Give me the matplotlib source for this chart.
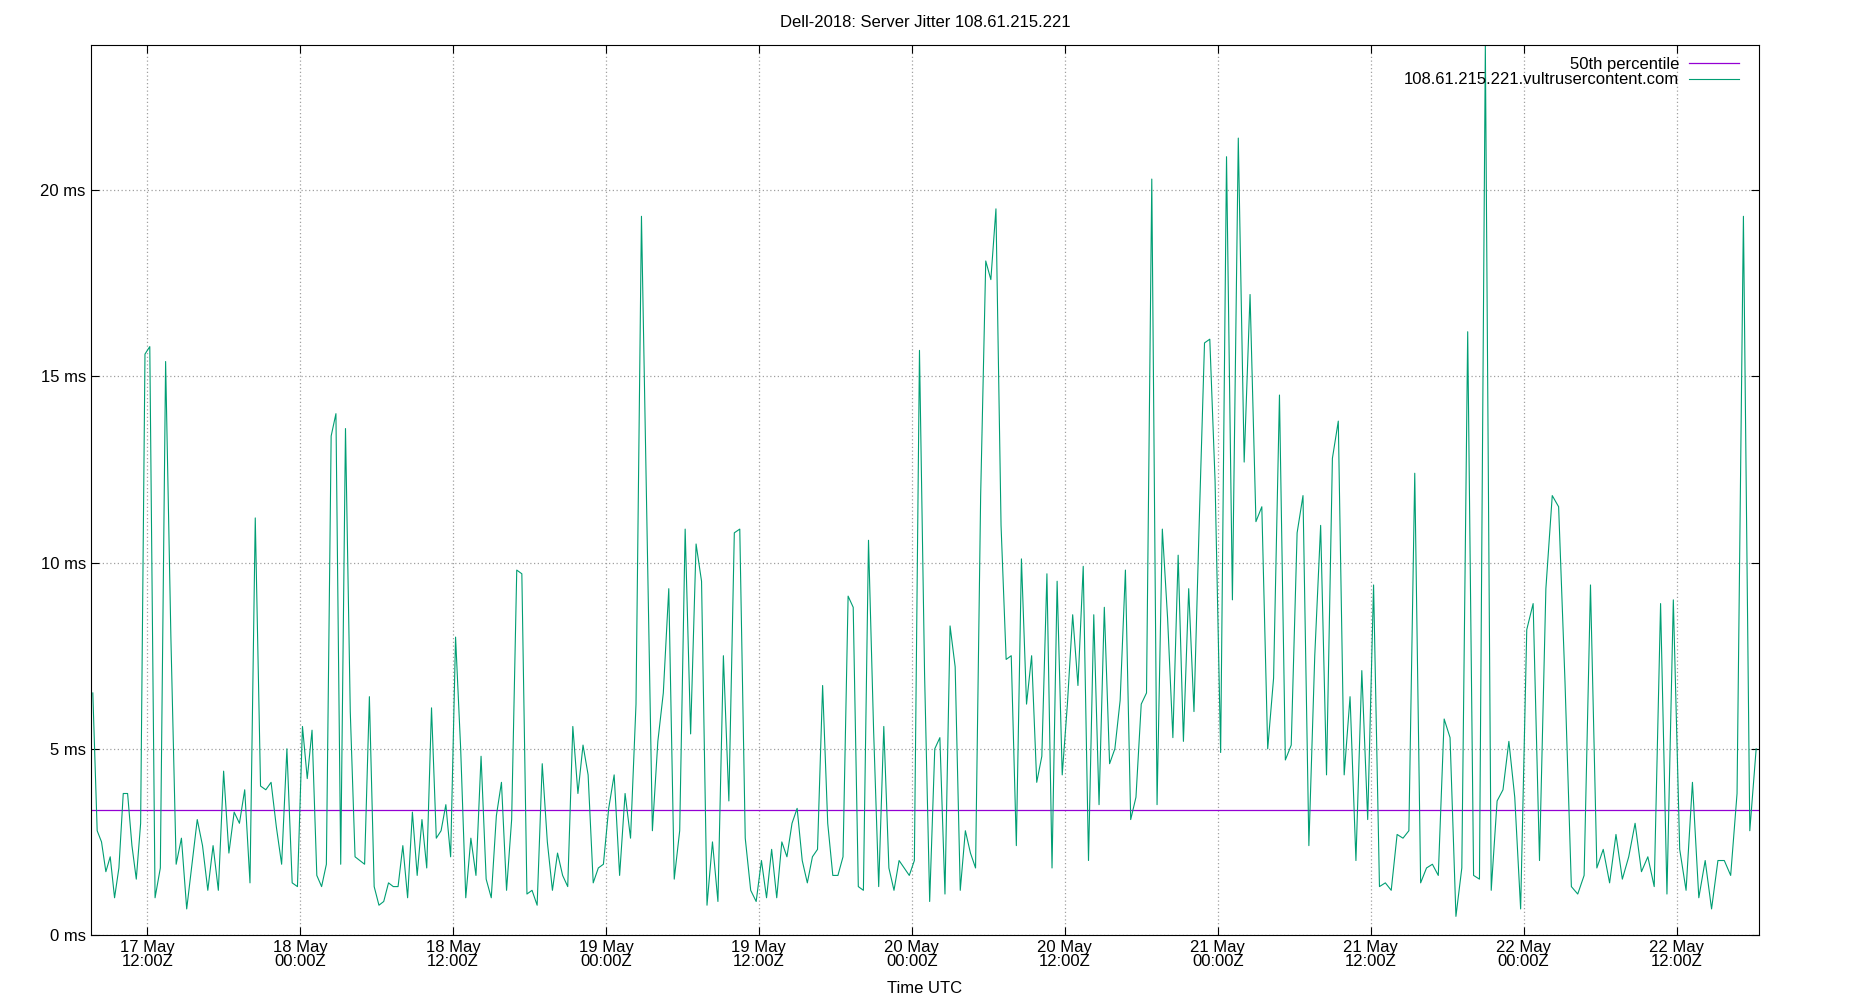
import numpy as np
import matplotlib
matplotlib.use("Agg")
import matplotlib.pyplot as plt
import matplotlib.dates as mdates
from datetime import datetime, timedelta

plt.rcParams['font.family'] = ['Liberation Sans', 'DejaVu Sans']

title = "Dell-2018: Server Jitter 108.61.215.221"
host = "108.61.215.221.vultrusercontent.com"
median_ms = 3.35

start = datetime(2024, 5, 17, 7, 34)
end = datetime(2024, 5, 22, 18, 30)

# jitter values, grouped per 12 h block
seg0 = [6.5, 2.8, 2.5, 1.7, 2.1, 1.0, 1.8, 3.8, 3.8, 2.4, 1.5, 3.0, 15.6]
seg1 = [15.8, 1.0, 1.8, 15.4, 8.0, 1.9, 2.6, 0.7, 1.9, 3.1, 2.4, 1.2, 2.4, 1.2, 4.4, 2.2, 3.3, 3.0,
        3.9, 1.4, 11.2, 4.0, 3.9, 4.1, 2.9, 1.9, 5.0, 1.4, 1.3]
seg2 = [5.6, 4.2, 5.5, 1.6, 1.3, 1.9, 13.4, 14.0, 1.9, 13.6, 6.0, 2.1, 2.0, 1.9, 6.4, 1.3, 0.8, 0.9,
        1.4, 1.3, 1.3, 2.4, 1.0, 3.3, 1.6, 3.1, 1.8, 6.1, 2.6, 2.8, 3.5, 2.1]
seg3 = [8.0, 5.0, 1.0, 2.6, 1.6, 4.8, 1.5, 1.0, 3.2, 4.1, 1.2, 3.1, 9.8, 9.7, 1.1, 1.2, 0.8, 4.6,
        2.5, 1.2, 2.2, 1.6, 1.3, 5.6, 3.8, 5.1, 4.3, 1.4, 1.8, 1.9]
seg4 = [3.4, 4.3, 1.6, 3.8, 2.6, 6.2, 19.3, 11.0, 2.8, 5.2, 6.5, 9.3, 1.5, 2.8, 10.9, 5.4, 10.5,
        9.5, 0.8, 2.5, 0.9, 7.5, 3.6, 10.8, 10.9, 2.6, 1.2, 0.9]
seg5 = [2.0, 1.0, 2.3, 1.0, 2.5, 2.1, 3.0, 3.4, 2.0, 1.4, 2.1, 2.3, 6.7, 3.0, 1.6, 1.6, 2.1, 9.1,
        8.8, 1.3, 1.2, 10.6, 5.5, 1.3, 5.6, 1.8, 1.2, 2.0, 1.8, 1.6]
seg6 = [2.0, 15.7, 7.0, 0.9, 5.0, 5.3, 1.1, 8.3, 7.2, 1.2, 2.8, 2.2, 1.8, 11.8, 18.1, 17.6, 19.5,
        11.0, 7.4, 7.5, 2.4, 10.1, 6.2, 7.5, 4.1, 4.8, 9.7, 1.8, 9.5, 4.3]
seg7 = [6.2, 8.6, 6.7, 9.9, 2.0, 8.6, 3.5, 8.8, 4.6, 5.0, 6.3, 9.8, 3.1, 3.7, 6.2, 6.5, 20.3, 3.5,
        10.9, 8.5, 5.3, 10.2, 5.2, 9.3, 6.0, 11.1, 15.9, 16.0, 12.2]
seg8 = [4.9, 20.9, 9.0, 21.4, 12.7, 17.2, 11.1, 11.5, 5.0, 6.9, 14.5, 4.7, 5.1, 10.8, 11.8, 2.4,
        7.5, 11.0, 4.3, 12.8, 13.8, 4.3, 6.4, 2.0, 7.1, 3.1]
seg9 = [9.4, 1.3, 1.4, 1.2, 2.7, 2.6, 2.8, 12.4, 1.4, 1.8, 1.9, 1.6, 5.8, 5.3, 0.5, 1.8, 16.2, 1.6,
        1.5, 23.9, 1.2, 3.6, 3.9, 5.2, 3.7, 0.7]
seg10 = [8.2, 8.9, 2.0, 9.3, 11.8, 11.5, 6.8, 1.3, 1.1, 1.6, 9.4, 1.8, 2.3, 1.4, 2.7, 1.5, 2.1, 3.0,
         1.7, 2.1, 1.3, 8.9, 1.1, 9.0]
seg11 = [2.3, 1.2, 4.1, 1.0, 2.0, 0.7, 2.0, 2.0, 1.6, 3.8, 19.3, 2.8, 5.0]
segments = [seg0, seg1, seg2, seg3, seg4, seg5, seg6, seg7, seg8, seg9, seg10, seg11]

# block boundaries: start, every 12 h from 17 May 12:00, end
bounds = [start] + [datetime(2024, 5, 17, 12) + timedelta(hours=12 * i) for i in range(11)] + [end]

times, values = [], []
for i, seg in enumerate(segments):
    t0, t1 = bounds[i], bounds[i + 1]
    span = (t1 - t0).total_seconds()
    n = len(seg)
    for k, v in enumerate(seg):
        times.append(t0 + timedelta(seconds=span * (k + 0.5) / n))
        values.append(v)

fig = plt.figure(figsize=(18.5, 10), dpi=100)
ax = fig.add_axes([0.049, 0.065, 0.902, 0.89])

ax.plot([start, end], [median_ms, median_ms], color="#9400d3", lw=0.9, label="50th percentile")
ax.plot(times, values, color="#009e73", lw=0.8, label=host)

ax.set_xlim(start, end)
ax.set_ylim(0, 23.9)
ax.set_yticks([0, 5, 10, 15, 20])
ax.set_yticklabels([f"{v} ms" for v in [0, 5, 10, 15, 20]])
ax.xaxis.set_major_locator(mdates.HourLocator(byhour=[0, 12]))
ax.xaxis.set_major_formatter(mdates.DateFormatter("%d %b\n%H:%MZ"))
ax.tick_params(direction="in", top=True, right=True, labelsize=12, length=6)
for lab in ax.get_xticklabels():
    lab.set_linespacing(0.9)
ax.grid(True, color="#a0a0a0", linestyle=(0, (1, 2)), lw=0.9)
ax.set_xlabel("Time UTC", fontsize=12, labelpad=9)
fig.suptitle(title, fontsize=12, y=0.985)

ax.legend(loc="upper right", frameon=False, markerfirst=False, fontsize=12,
          handlelength=3, borderaxespad=0.3, labelspacing=0.05, handletextpad=0.6,
          bbox_to_anchor=(0.995, 1.0))

fig.savefig("out.png")
